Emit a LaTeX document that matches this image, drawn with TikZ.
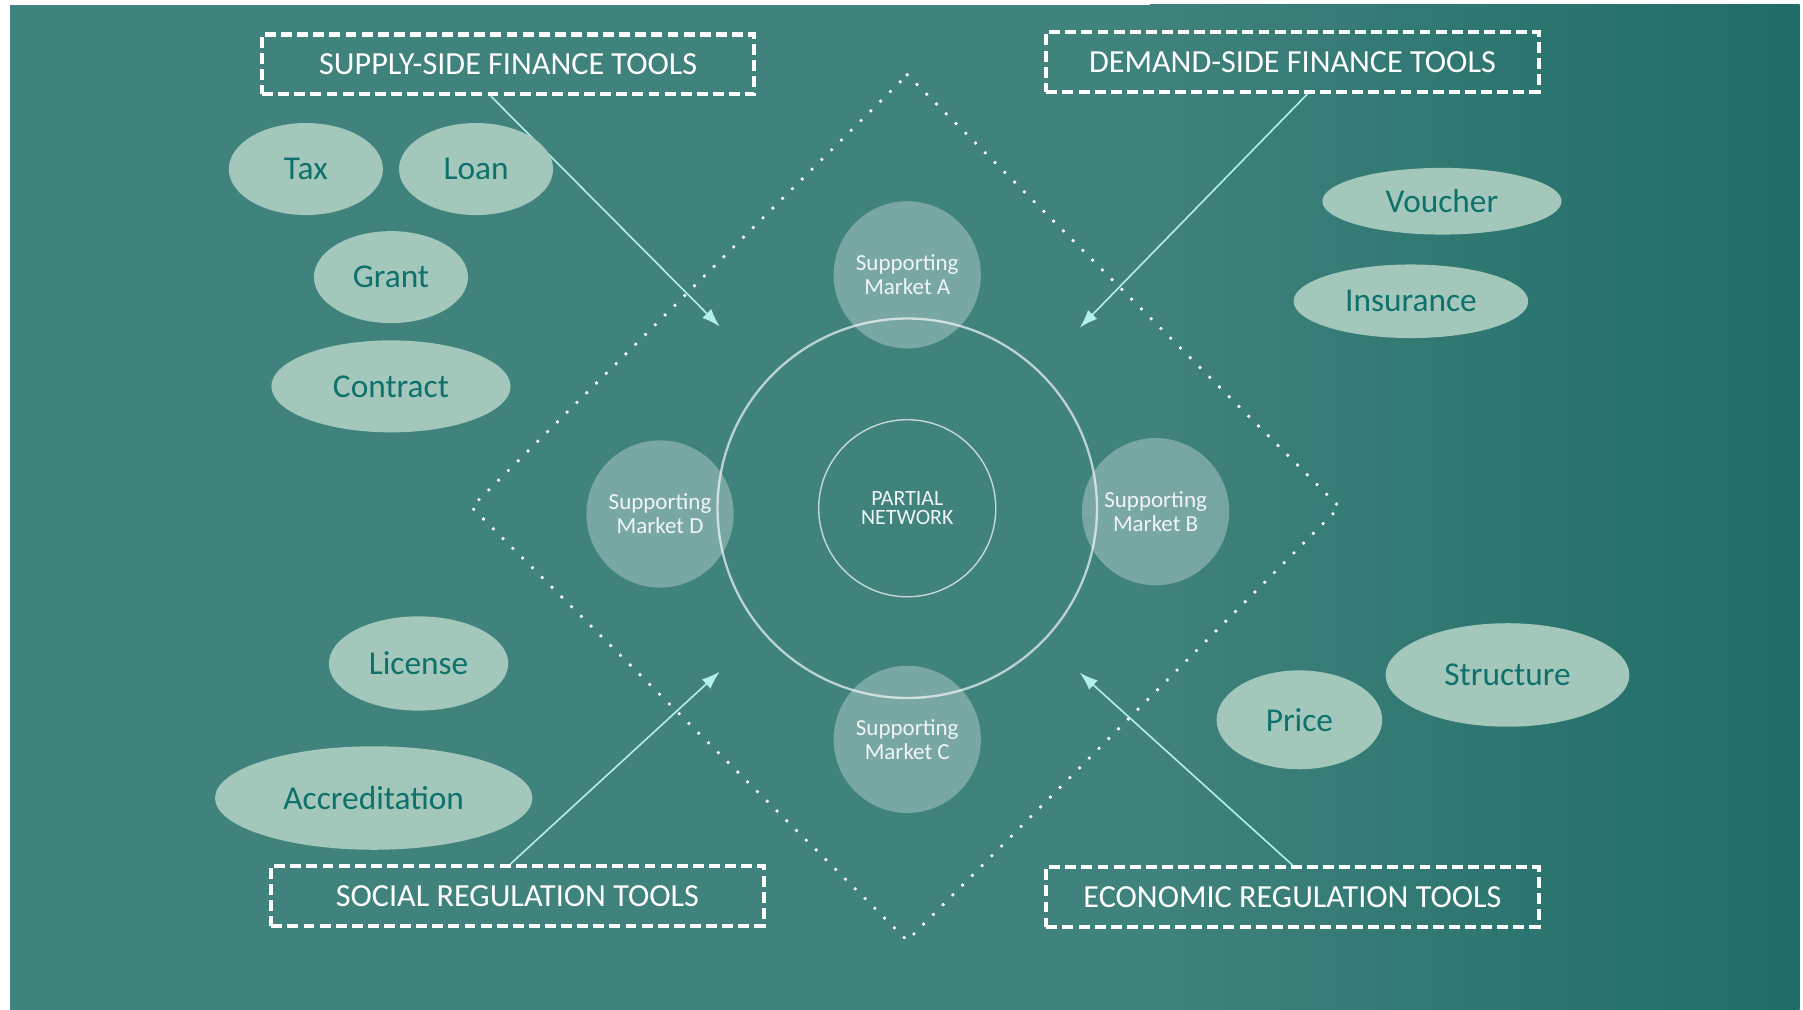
\documentclass[tikz,border=0pt]{standalone}
\usepackage{fontspec}
\setmainfont{Carlito}
\usetikzlibrary{arrows.meta,positioning,calc,shapes.geometric}
\definecolor{bgteal}{HTML}{40827C}
\definecolor{bgdark}{HTML}{1F6C67}
\definecolor{sage}{HTML}{A3C8BB}
\definecolor{toolink}{HTML}{0E716B}
\definecolor{arrowcyan}{HTML}{B0F2EA}
\tikzset{
    >={Latex[length=16pt,width=11pt]},
    toolbox/.style={draw=white,line width=3.5pt,dash pattern=on 9.5pt off 4.5pt,
        minimum width=428pt,minimum height=52pt,inner sep=0pt,
        text=white,font=\fontsize{28}{30}\selectfont},
    tool/.style={ellipse,fill=sage,inner sep=0pt,text=toolink,
        font=\fontsize{29}{32}\selectfont},
    market/.style={circle,fill=white,fill opacity=0.3,text opacity=1,
        minimum size=128pt,inner sep=0pt,text=white!92!bgteal,align=center,
        font=\fontsize{20}{21}\selectfont},
    pointer/.style={->,draw=arrowcyan,line width=1.4pt}
}

\begin{document}
\begin{tikzpicture}[x=1pt,y=-1pt]
        \useasboundingbox (0,0) rectangle (1568,878);

        % Background
        \fill[white] (0,0) rectangle (1568,878);
        \fill[bgteal] (9,4) rectangle (1001,878);
        \shade[left color=bgteal,right color=bgdark] (1000,4) rectangle (1565,878);

        % Dotted diamond
        \draw[white,line width=3.2pt,line cap=round,dash pattern=on 0pt off 12pt]
            (789,65) -- (1165,441) -- (789,818) -- (410,441) -- cycle;

        % Partial network and its ring
        \node[circle,draw=white,draw opacity=0.65,line width=2pt,minimum size=330pt] (ring) at (789,442) {};
        \node[circle,draw=white,draw opacity=0.7,line width=1.2pt,minimum size=154pt,
            text=white!92!bgteal,align=center,font=\fontsize{19}{17}\selectfont] (core) at (789,442) {PARTIAL\\NETWORK};

        % Supporting markets
        \node[market] (mA) at (789,239) {Supporting\\Market A};
        \node[market] (mB) at (1005,445) {Supporting\\Market B};
        \node[market] (mC) at (789,643) {Supporting\\Market C};
        \node[market] (mD) at (574,447) {Supporting\\Market D};

        % Tool boxes
        \node[toolbox] (supply) at (442,56) {SUPPLY-SIDE FINANCE TOOLS};
        \node[toolbox] (demand) at (1124,54) {DEMAND-SIDE FINANCE TOOLS};
        \node[toolbox] (social) at (450,779) {SOCIAL REGULATION TOOLS};
        \node[toolbox] (economic) at (1124,780) {ECONOMIC REGULATION TOOLS};

        % Arrow ends
        \coordinate (tipNW) at (626,284);
        \coordinate (tipNE) at (939,285);
        \coordinate (tipSW) at (626,584);
        \coordinate (tipSE) at (939,585);
        \draw[pointer] ([xshift=-15pt]supply.south) -- (tipNW);
        \draw[pointer] ([xshift=13pt]demand.south) -- (tipNE);
        \draw[pointer] ([xshift=-6pt]social.north) -- (tipSW);
        \draw[pointer] (economic.north) -- (tipSE);

        % Supply-side tools
        \node[tool,minimum width=134pt,minimum height=80pt] (tax) at (266,147) {Tax};
        \node[tool,minimum width=134pt,minimum height=80pt] (loan) at (414,147) {Loan};
        \node[tool,minimum width=134pt,minimum height=80pt] (grant) at (340,241) {Grant};
        \node[tool,minimum width=208pt,minimum height=80pt] (contract) at (340,336) {Contract};

        % Demand-side tools
        \node[tool,minimum width=208pt,minimum height=58pt] (voucher) at (1254,175) {Voucher};
        \node[tool,minimum width=204pt,minimum height=64pt] (insurance) at (1227,262) {Insurance};

        % Social regulation tools
        \node[tool,minimum width=156pt,minimum height=82pt] (license) at (364,577) {License};
        \node[tool,minimum width=276pt,minimum height=90pt] (accred) at (325,694) {Accreditation};

        % Economic regulation tools
        \node[tool,minimum width=144pt,minimum height=86pt] (price) at (1130,626) {Price};
        \node[tool,minimum width=212pt,minimum height=90pt] (structure) at (1311,587) {Structure};
    \end{tikzpicture}
\end{document}
